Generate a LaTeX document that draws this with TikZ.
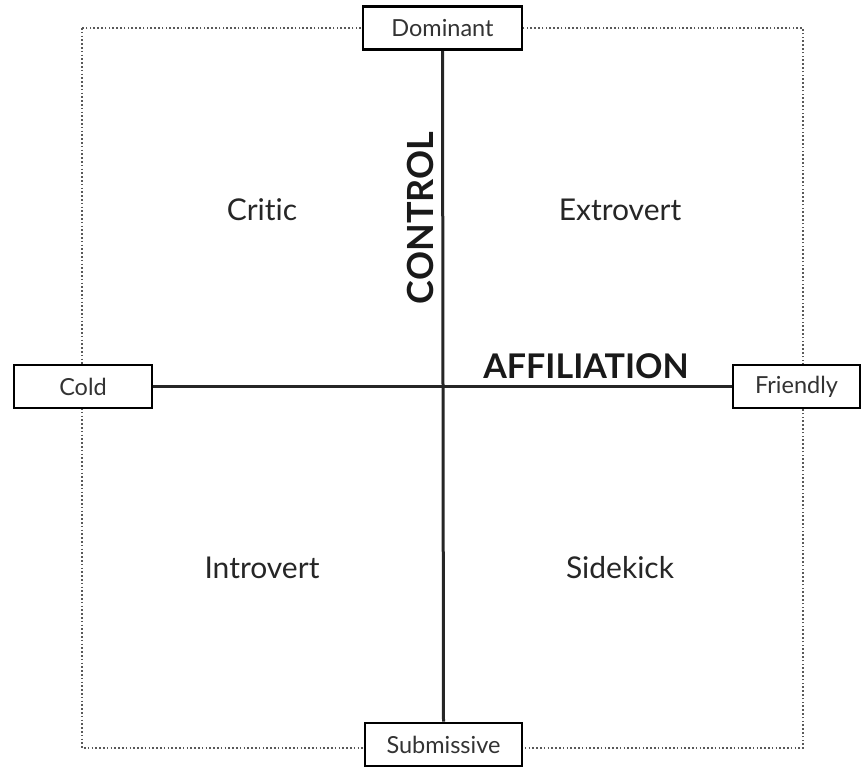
\documentclass[tikz,border=0pt]{standalone}
\usepackage{fontspec}
\setmainfont{Lato}[Ligatures=NoCommon]
\usepackage{tikz}
\usetikzlibrary{positioning}

\begin{document}
\begin{tikzpicture}[
  x=1pt, y=-1pt,
  pole/.style={draw, line width=2.8pt, fill=white, minimum height=43pt, inner sep=2pt, font=\fontsize{23.5}{26}\selectfont, text=black!80},
  axisline/.style={line width=3pt, black!85},
  frame/.style={draw=black!65, line width=1.1pt, dash pattern=on 1.6pt off 2.2pt},
  quad/.style={font=\fontsize{30}{33}\selectfont, text=black!85},
  axlabel/.style={font=\bfseries, text=black!90}
]
  \useasboundingbox (0,0) rectangle (863,771);

  % dotted outer frame
  \draw[frame] (82,28) rectangle (803,748);

  % poles
  \node[pole, minimum width=159pt] (dom)  at (442.5,28)  {Dominant};
  \node[pole, minimum width=157pt] (sub)  at (443.5,744.5) {Submissive};
  \node[pole, minimum width=138pt] (cold) at (83,386.5)   {Cold};
  \node[pole, minimum width=127pt] (fri)  at (796.5,386.5) {Friendly};

  % axes
  \draw[axisline] (dom.south) -- (sub.north);
  \draw[axisline] (cold.east) -- (fri.west);

  % axis names
  \node[axlabel, rotate=90, font=\fontsize{36}{40}\selectfont\bfseries] (ctrl) at (420,218) {CONTROL};
  \node[axlabel, font=\fontsize{34}{38}\selectfont\bfseries] (affil) at (586,366) {AFFILIATION};

  % quadrants
  \node[quad] (critic) at (262,210) {Critic};
  \node[quad] (extro)  at (620,210) {Extrovert};
  \node[quad] (intro)  at (262,568) {Introvert};
  \node[quad] (side)   at (620,568) {Sidekick};
\end{tikzpicture}
\end{document}
